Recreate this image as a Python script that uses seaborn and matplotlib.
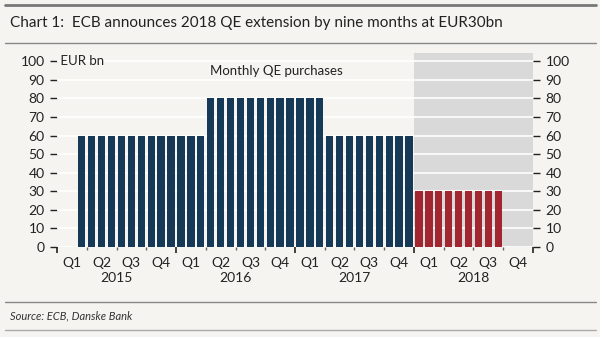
import numpy as np
import pandas as pd
import matplotlib
matplotlib.use("Agg")
import matplotlib.pyplot as plt
import seaborn as sns

# ---- data ----
years = [2015, 2016, 2017, 2018]
quarters = ["Q1", "Q2", "Q3", "Q4"]
# monthly purchases, Jan 2015 .. Dec 2018 (EUR bn)
purch_2015 = [0, 0, 60, 60, 60, 60, 60, 60, 60, 60, 60, 60]
purch_2016 = [60, 60, 60, 80, 80, 80, 80, 80, 80, 80, 80, 80]
purch_2017 = [80, 80, 80, 60, 60, 60, 60, 60, 60, 60, 60, 60]
purch_2018 = [30, 30, 30, 30, 30, 30, 30, 30, 30, 0, 0, 0]
period_2018 = "Extension"
yticks = [0, 10, 20, 30, 40, 50, 60, 70, 80, 90, 100]

values = purch_2015 + purch_2016 + purch_2017 + purch_2018
months = [f"{y}-{m:02d}" for y in years for m in range(1, 13)]
period = ["Actual"] * 36 + [period_2018] * 12
df = pd.DataFrame({"month": months, "value": values, "period": period})

BG = "#F5F4F0"
BLUE = "#0B3A63"
RED = "#B5121F"

sns.set_theme(style="white")
plt.rcParams["font.family"] = ["Lato", "DejaVu Sans"]

fig = plt.figure(figsize=(6.0, 3.37), dpi=100, facecolor=BG)
ax = fig.add_axes([57/600, 1-247/337, 476/600, 194/337])
ax.set_facecolor(BG)

# shaded 2018 area
ax.axvspan(35.5, 47.5, color="#D9D9D9", zorder=0, lw=0)

sns.barplot(data=df, x="month", y="value", hue="period", order=months,
            palette={"Actual": BLUE, period_2018: RED}, dodge=False,
            width=0.74, legend=False, ax=ax, zorder=3, linewidth=0)

ax.set_xlim(-0.5, 47.5)
ax.set_ylim(0, 104.5)
ax.set_yticks(yticks)
for y in yticks:
    ax.axhline(y, color="white", lw=1.2, zorder=1)
ax.grid(False)
for s in ax.spines.values():
    s.set_visible(False)

ax.set_ylabel("")
ax.set_xlabel("")
ax.tick_params(axis="y", which="both", left=True, right=True, labelleft=True,
               labelright=True, length=5, width=1, color="#222222",
               labelsize=10, pad=4, labelcolor="#222222")
ax.set_yticklabels([str(v) for v in yticks])

# x ticks: quarter boundaries (short), year boundaries (long)
qb = [i * 3 - 0.5 for i in range(17)]
yb = [i * 12 - 0.5 for i in range(5)]
ax.set_xticks(yb)
ax.set_xticklabels([""] * len(yb))
ax.set_xticks([q for q in qb if q not in yb], minor=True)
ax.tick_params(axis="x", which="major", length=4, width=1.2, color="#222222", bottom=True)
ax.tick_params(axis="x", which="minor", length=2, width=1, color="#666666", bottom=True)

trans = ax.get_xaxis_transform()
for yi, yr in enumerate(years):
    for qi, q in enumerate(quarters):
        ax.text(yi * 12 + qi * 3 + 1, -0.08, q, transform=trans, ha="center",
                va="center", fontsize=10, color="#222222")
    ax.text(yi * 12 + 5.5, -0.16, str(yr), transform=trans, ha="center",
            va="center", fontsize=10, color="#222222")

ax.text(0.0, 100, " EUR bn", ha="left", va="center", fontsize=9.5,
        color="#222222", transform=matplotlib.transforms.blended_transform_factory(ax.transAxes, ax.transData))
ax.text(0.46, 98, "Monthly QE purchases", ha="center", va="top", fontsize=9.5,
        color="#222222", transform=matplotlib.transforms.blended_transform_factory(ax.transAxes, ax.transData))

# title and frame lines
fig.add_artist(plt.Line2D([5/600, 596/600], [1-5/337, 1-5/337], color="#777777", lw=2))
fig.add_artist(plt.Line2D([5/600, 596/600], [1-43/337, 1-43/337], color="#888888", lw=1))
fig.text(10/600, 1-23/337, "Chart 1:  ECB announces 2018 QE extension by nine months at EUR30bn",
         ha="left", va="center", fontsize=11, color="#222222")
fig.add_artist(plt.Line2D([5/600, 596/600], [1-302/337, 1-302/337], color="#888888", lw=1))
fig.text(10/600, 1-316/337, "Source: ECB, Danske Bank", ha="left", va="center",
         fontsize=8, style="italic", color="#333333")
fig.add_artist(plt.Line2D([5/600, 596/600], [1-330/337, 1-330/337], color="#AAAAAA", lw=1))

fig.savefig("out.png", dpi=100, facecolor=BG)
